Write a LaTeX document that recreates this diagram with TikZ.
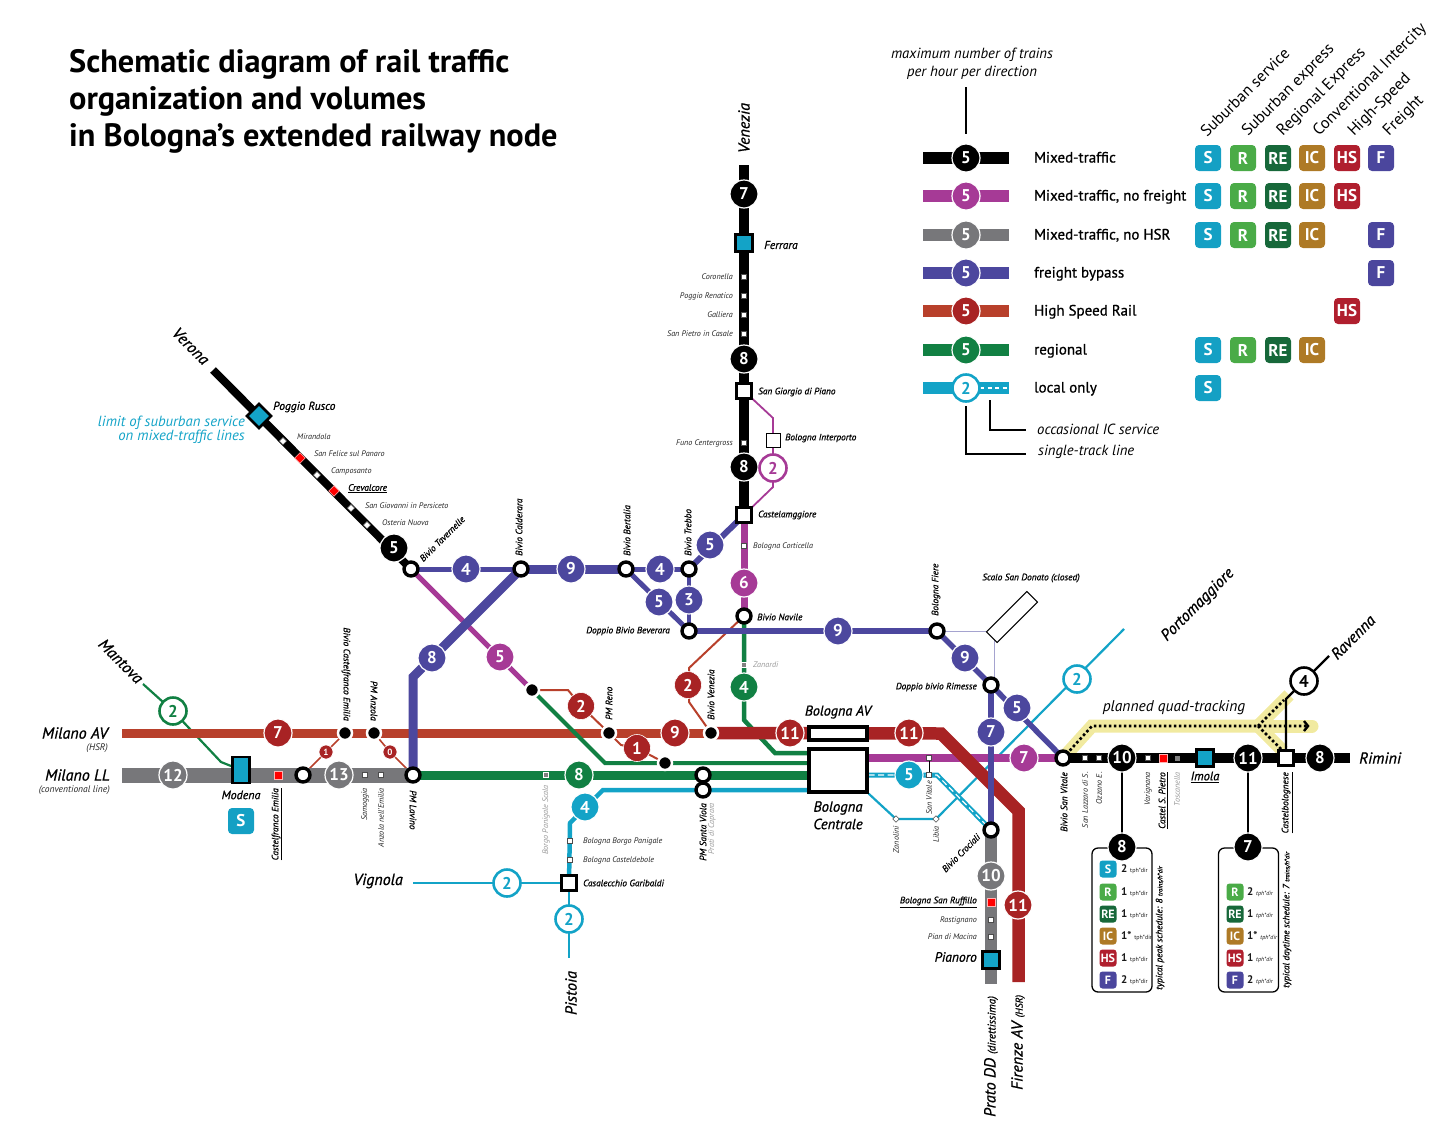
\documentclass[tikz,border=0pt]{standalone}
\usepackage{fontspec}
\setmainfont{PT Sans}
\newfontfamily\semif[FakeBold=0.8]{PT Sans}
\usetikzlibrary{calc}
\pgfdeclarelayer{lines}
\pgfsetlayers{lines,main}
\definecolor{mg}{HTML}{A63A96}
\definecolor{gy}{HTML}{77777A}
\definecolor{fr}{HTML}{4C479E}
\definecolor{hl}{HTML}{B8402B}
\definecolor{hd}{HTML}{A82324}
\definecolor{gr}{HTML}{118043}
\definecolor{cy}{HTML}{13A3C7}
\definecolor{yl}{HTML}{F1EAA0}
\definecolor{bS}{HTML}{14A0C4}
\definecolor{bR}{HTML}{4AAB47}
\definecolor{bE}{HTML}{17683A}
\definecolor{bI}{HTML}{AE7A26}
\definecolor{bH}{HTML}{B01F2E}
\definecolor{bF}{HTML}{4B469D}
\newcommand\fs[1]{\fontsize{#1}{#1}\selectfont}
\tikzset{
  bub/.style={circle,fill=#1,draw=white,line width=1.2pt,text=white,font=\fs{17}\bfseries,inner sep=0pt,minimum size=28pt},
  ring/.style={circle,fill=white,draw=#1,line width=2.6pt,text=#1,font=\fs{17}\bfseries,inner sep=0pt,minimum size=27pt},
  smb/.style={circle,fill=hd,draw=white,line width=.6pt,text=white,font=\fs{9}\bfseries,inner sep=0pt,minimum size=14pt},
  junc/.style={circle,fill=white,draw=black,line width=3.4pt,inner sep=0pt,minimum size=14pt},
  dot/.style={circle,fill=black,draw=white,line width=2.5pt,inner sep=0pt,minimum size=14pt},
  sqk/.style={rectangle,fill=white,draw=black,line width=3.4pt,inner sep=0pt,minimum size=15pt},
  sqc/.style={rectangle,fill=cy,draw=black,line width=2.6pt,inner sep=0pt,minimum size=17pt},
  stw/.style={rectangle,fill=white,draw=black!70,line width=.4pt,inner sep=0pt,minimum size=5pt},
  str/.style={rectangle,fill=red,draw=white!70!red,line width=.5pt,inner sep=0pt,minimum size=7.5pt},
  stg/.style={rectangle,fill=gray,draw=white,line width=.6pt,inner sep=0pt,minimum size=5pt},
  dia/.style={rectangle,rotate=45,fill=white,draw=black!70,line width=.5pt,inner sep=0pt,minimum size=4.5pt},
  bdg/.style={rectangle,rounded corners=4pt,fill=#1,text=white,font=\fs{17}\bfseries,inner sep=0pt,minimum size=26pt},
  bds/.style={rectangle,rounded corners=3pt,fill=#1,text=white,font=\fs{12}\bfseries,inner sep=0pt,minimum size=17pt},
  s8/.style={font=\fs{8.1}\itshape,text=black!85,inner sep=0pt},
  s9/.style={font=\fs{9.3}\semif\itshape,inner sep=0pt},
  sg/.style={font=\fs{8.1}\itshape,text=black!40,inner sep=0pt},
  ctb/.style={font=\fs{16}\semif\itshape,inner sep=0pt},
  note/.style={font=\fs{14.7}\itshape,inner sep=0pt},
  ltx/.style={font=\fs{15}\semif,inner sep=0pt,anchor=base west},
  hdr/.style={font=\fs{16.2},inner sep=0pt,anchor=west,rotate=45},
  ttl/.style={font=\fs{32.3}\bfseries,inner sep=0pt,anchor=base west},
}
\begin{document}
\begin{tikzpicture}[x=1pt,y=-1pt]
\useasboundingbox (0,0) rectangle (1456,1146);
% ---------- title
\node[ttl] (t1) at (69,72) {Schematic diagram of rail traffic};
\node[ttl] (t2) at (69,109) {organization and volumes};
\node[ttl] (t3) at (69,146) {in Bologna’s extended railway node};
% ---------- legend
\node[note,align=center] (lg1) at (972,55) {maximum number of trains};
\node[note,align=center] (lg2) at (972,73) {per hour per direction};
\coordinate (lgtop) at (966,87); \coordinate (lgbot) at (966,134);
\draw[line width=1.1pt] (lgtop)--(lgbot);
\foreach \yy/\cc/\nn/\tt in {158/black/a/{Mixed-traffic},196/mg/b/{Mixed-traffic, no freight},235/gy/c/{Mixed-traffic, no HSR},273/fr/d/{freight bypass},311/hl/e/{High Speed Rail},350/gr/f/{regional}}{
  \coordinate (la\nn) at (923,\yy); \coordinate (lb\nn) at (1009,\yy);
  \draw[\cc,line width=12.5pt] (la\nn)--(lb\nn);
  \node[ltx] (lt\nn) at (1034,\yy+4.5) {\tt};
}
\node[bub=black] (lba) at (966,158) {5};
\node[bub=mg] (lbb) at (966,196) {5};
\node[bub=gy] (lbc) at (966,235) {5};
\node[bub=fr] (lbd) at (966,273) {5};
\node[bub=hd] (lbe) at (966,311) {5};
\node[bub=gr] (lbf) at (966,350) {5};
\coordinate (lag) at (923,388); \coordinate (lbg) at (1009,388);
\draw[cy,line width=12.5pt] (lag)--(lbg);
\draw[white,line width=1.3pt,dash pattern=on 4pt off 3.5pt] (980,388)--(lbg);
\node[ring=cy] (lbgg) at (966,388) {2};
\node[ltx] (ltg) at (1034,392.5) {local only};
\node[note,anchor=west] (oc) at (1037,429) {occasional IC service};
\node[note,anchor=west] (si) at (1038,452) {single-track line};
\coordinate (oc0) at (990,400); \coordinate (oc1) at (1026,430);
\coordinate (si0) at (966,406); \coordinate (si1) at (1026,454);
\draw[line width=1.1pt] (oc0)|-(oc1);
\draw[line width=1.1pt] (si0)|-(si1);
\node[hdr] (h1) at (1203,134) {Suburban service};
\node[hdr] (h2) at (1245,134) {Suburban express};
\node[hdr] (h3) at (1280,134) {Regional Express};
\node[hdr] (h4) at (1316,134) {Conventional Intercity};
\node[hdr] (h5) at (1351,134) {High-Speed};
\node[hdr] (h6) at (1386,134) {Freight};
\foreach \yy/\n in {158/1,196/2,235/3,350/6,388/7}{\node[bdg=bS] (bs\n) at (1208,\yy) {S};}
\foreach \yy/\n in {158/1,196/2,235/3,350/6}{
  \node[bdg=bR] (br\n) at (1243,\yy) {R};
  \node[bdg=bE] (be\n) at (1278,\yy) {RE};
  \node[bdg=bI] (bi\n) at (1312,\yy) {IC};}
\foreach \yy/\n in {158/1,196/2,311/5}{\node[bdg=bH] (bh\n) at (1347,\yy) {HS};}
\foreach \yy/\n in {158/1,235/3,273/4}{\node[bdg=bF] (bf\n) at (1381,\yy) {F};}
% ---------- stations & bubbles: north-west line
\node[ctb,rotate=-45] (Verona) at (191,346) {Verona};
\coordinate (vtop) at (213,370);
\node[sqc,rotate=45] (Poggio) at (259,416) {};
\node[s9,anchor=west,font=\fs{11.5}\semif\itshape] (lPog) at (273,407) {Poggio Rusco};
\node[note,anchor=east,text=cy] (lim1) at (245,423) {limit of suburban service};
\node[note,anchor=east,text=cy] (lim2) at (245,437) {on mixed-traffic lines};
\node[stw,rotate=45] (sMir) at (283,441) {};
\node[str,rotate=45] (sFel) at (300,458) {};
\node[stw,rotate=45] (sCam) at (317,475) {};
\node[str,rotate=45] (sCre) at (334,491) {};
\node[stw,rotate=45] (sGio) at (351,508) {};
\node[stw,rotate=45] (sOst) at (367,525) {};
\node[s8,anchor=west] (lMir) at (297,437) {Mirandola};
\node[s8,anchor=west] (lFel) at (314,454) {San Felice sul Panaro};
\node[s8,anchor=west] (lCam) at (331,471) {Camposanto};
\node[s9,anchor=west] (lCre) at (348,488.5) {\underline{Crevalcore}};
\node[s8,anchor=west] (lGio) at (365,505.5) {San Giovanni in Persiceto};
\node[s8,anchor=west] (lOst) at (382,523) {Osteria Nuova};
\node[bub=black] (n5) at (394,548) {5};
\node[junc] (Tav) at (411,569) {};
\node[s9,rotate=45,anchor=west] (lTav) at (421,560) {Bivio Tavernelle};
% north line
\node[ctb,rotate=90] (Venezia) at (744,128) {Venezia};
\coordinate (ntop) at (744,165);
\node[bub=black] (n7) at (744,194) {7};
\node[sqc] (Ferrara) at (744,243) {};
\node[s9,anchor=west,font=\fs{11.5}\semif\itshape] (lFer) at (764,245) {Ferrara};
\foreach \yy/\n/\t in {277/a/Coronella,296/b/Poggio Renatico,315/c/Galliera,334/d/San Pietro in Casale,443/e/Funo Centergross}{
  \node[stw] (sN\n) at (744,\yy) {};
  \node[s8,anchor=east] (lN\n) at (733,\yy) {\t};}
\node[bub=black] (n8a) at (744,359) {8};
\node[sqk] (Giorgio) at (744,391) {};
\node[s9,anchor=west] (lGgi) at (758,392) {San Giorgio di Piano};
\node[bub=black] (n8b) at (744,467) {8};
\node[rectangle,fill=white,draw=black,line width=.9pt,inner sep=0pt,minimum size=14pt] (Interp) at (773,440) {};
\node[s9,anchor=west] (lInt) at (785,438) {Bologna Interporto};
\node[ring=mg] (m2) at (773,468) {2};
\node[sqk] (Castm) at (744,515) {};
\node[s9,anchor=west] (lCas) at (758,515) {Castelamggiore};
\node[stw] (sCor) at (744,546) {};
\node[s8,anchor=west] (lCor) at (753,546) {Bologna Corticella};
\node[bub=mg] (m6) at (744,583) {6};
\node[junc] (Nav) at (744,616) {};
\node[s9,anchor=west] (lNav) at (757,617) {Bivio Navile};
\node[stg] (sZan) at (744,665) {};
\node[sg,anchor=west] (lZan) at (753,665) {Zanardi};
\node[bub=gr] (g4) at (744,687) {4};
% freight network
\node[bub=fr] (f4a) at (466,569) {4};
\node[junc] (Cald) at (521,569) {};
\node[s9,rotate=90,anchor=west] (lCal) at (519,556) {Bivio Calderara};
\node[bub=fr] (f9a) at (571,569) {9};
\node[junc] (Bert) at (626,569) {};
\node[s9,rotate=90,anchor=west] (lBer) at (627,556) {Bivio Bertalia};
\node[bub=fr] (f4b) at (660,569) {4};
\node[junc] (Treb) at (689,569) {};
\node[s9,rotate=90,anchor=west] (lTre) at (688,556) {Bivio Trebbo};
\node[bub=fr] (f5a) at (710,545) {5};
\node[bub=fr] (f5b) at (659,602) {5};
\node[bub=fr] (f3) at (689,600) {3};
\node[junc] (Bev) at (689,631) {};
\node[s9,anchor=east] (lBev) at (670,631) {Doppio Bivio Beverara};
\node[bub=fr] (f9b) at (838,631) {9};
\node[junc] (Fier) at (937,631) {};
\node[s9,rotate=90,anchor=west] (lFie) at (936,616) {Bologna Fiere};
\node[bub=fr] (f9c) at (965,658) {9};
\node[junc] (Rim) at (991,685) {};
\node[s9,anchor=east] (lRim) at (977,687) {Doppio bivio Rimesse};
\node[bub=fr] (f5c) at (1017,708) {5};
\node[bub=fr] (f7) at (991,732) {7};
\node[junc] (Croc) at (991,830) {};
\node[s9,rotate=45] (lCro) at (961,853) {Bivio Crociali};
\node[bub=fr] (f8) at (432,658) {8};
\node[junc] (Lav) at (413,775) {};
\node[s9,rotate=-90,anchor=west] (lLav) at (413,790) {PM Lavino};
\node[bub=mg] (m5) at (500,657) {5};
\node[dot] (dA) at (532,690) {};
\node[smb,font=\fs{17}\bfseries,minimum size=27pt] (r2a) at (581,706) {2};
\node[dot] (Reno) at (609,733) {};
\node[s9,rotate=90,anchor=west] (lRen) at (609,720) {PM Reno};
\node[smb,font=\fs{17}\bfseries,minimum size=27pt] (r1) at (637,748) {1};
\node[dot] (dB) at (665,763) {};
\node[smb,font=\fs{17}\bfseries,minimum size=27pt] (r2b) at (688,685) {2};
\node[dot] (Ven) at (711,733) {};
\node[s9,rotate=90,anchor=west] (lVen) at (711,720) {Bivio Venezia};
\node[bub=hd] (r9) at (675,733) {9};
\node[bub=hd] (r11a) at (790,733) {11};
\node[bub=hd] (r11b) at (909,733) {11};
\node[bub=hd] (r11c) at (1018,905) {11};
% west
\node[ctb,anchor=east] (lMA) at (108,733) {Milano AV};
\node[s8,anchor=east,font=\fs{9.5}\itshape] (lMA2) at (108,748) {(HSR)};
\node[ctb,anchor=east] (lML) at (110,775) {Milano LL};
\node[s8,anchor=east,font=\fs{9.5}\itshape] (lML2) at (110,790) {(conventional line)};
\coordinate (wA) at (122,733); \coordinate (wL) at (122,775);
\node[ctb,rotate=-45] (lMan) at (121,661) {Mantova};
\coordinate (mtop) at (143,684);
\node[ring=gr] (g2) at (173,711) {2};
\node[bub=hd] (r7) at (278,733) {7};
\node[bub=gy] (g12) at (173,775) {12};
\node[rectangle,fill=cy,draw=black,line width=2.6pt,inner sep=0pt,minimum width=17pt,minimum height=26pt] (Mod) at (241,770) {};
\node[s9,font=\fs{12}\semif\itshape] (lMod) at (241,795) {Modena};
\node[bdg=bS] (bsM) at (241,821) {S};
\node[str] (sCfe) at (278,775) {};
\node[s9,rotate=90,anchor=east] (lCfe) at (277,788) {\underline{Castelfranco Emilia}};
\node[junc] (jW) at (303,775) {};
\node[bub=gy] (g13) at (339,775) {13};
\node[stw] (sSam) at (365,775) {};
\node[s8,rotate=90,anchor=east] (lSam) at (365,788) {Samoggia};
\node[stw] (sAnz) at (381,775) {};
\node[s8,rotate=90,anchor=east] (lAnz) at (381,788) {Anzola nell'Emilia};
\node[dot] (dCf) at (345,733) {};
\node[dot] (dAn) at (374,733) {};
\node[s9,rotate=-90,anchor=east] (lBcf) at (346,721) {Bivio Castelfranco Emilia};
\node[s9,rotate=-90,anchor=east] (lPan) at (374,721) {PM Anzola};
\node[smb] (r1s) at (326,752) {1};
\node[smb] (r0s) at (390,752) {0};
% green / local
\node[stg] (sBps) at (546,775) {};
\node[sg,rotate=90,anchor=east] (lBps) at (546,785) {Borgo Panigale Scala};
\node[bub=gr] (g8) at (579,775) {8};
\node[junc] (SV1) at (703,775) {};
\node[junc] (SV2) at (703,790) {};
\node[s9,rotate=90,anchor=east] (lSV) at (703,803) {PM Santa Viola};
\node[sg,rotate=90,anchor=east] (lPra) at (712,803) {Prati di Caprara};
\node[bub=cy] (c4) at (585,807) {4};
\node[stw] (sBor) at (570,841) {};
\node[stw] (sCad) at (570,860) {};
\node[s8,anchor=west] (lBor) at (583,841) {Bologna Borgo Panigale};
\node[s8,anchor=west] (lCad) at (583,860) {Bologna Casteldebole};
\node[sqk] (Gar) at (569,883) {};
\node[s9,anchor=west] (lGar) at (583,883) {Casalecchio Garibaldi};
\node[ring=cy] (c2w) at (507,883) {2};
\node[ctb,anchor=east] (lVig) at (403,881) {Vignola};
\coordinate (vig) at (413,883);
\node[ring=cy] (c2s) at (569,919) {2};
\coordinate (pis) at (569,958);
\node[ctb,rotate=90] (lPis) at (571,993) {Pistoia};
% Bologna
\node[rectangle,fill=white,draw=black,line width=3.4pt,inner sep=0pt,minimum width=58pt,minimum height=13pt] (AV) at (838,733.5) {};
\node[rectangle,fill=white,draw=black,line width=3.4pt,inner sep=0pt,minimum width=58pt,minimum height=43pt] (BC) at (838,770.5) {};
\node[ctb,font=\fs{14.2}\semif\itshape] (lAV) at (838,712) {Bologna AV};
\node[ctb,font=\fs{14.7}\semif\itshape] (lBC1) at (838,808) {Bologna};
\node[ctb,font=\fs{14.7}\semif\itshape] (lBC2) at (838,824) {Centrale};
% south / east
\node[stw] (sVit) at (929,758) {};
\node[stw] (sVi2) at (929,775) {};
\node[s8,rotate=90,anchor=east] (lVit) at (929,781) {San Vitale};
\node[bub=cy] (c5) at (909,775) {5};
\node[dia] (Zan) at (896,819) {};
\node[dia] (Lib) at (936,819) {};
\node[s8,rotate=90,anchor=east] (lZn) at (896,826) {Zanolini};
\node[s8,rotate=90,anchor=east] (lLb) at (936,826) {Libia};
\coordinate (cyend) at (1124,629);
\node[ring=cy] (c2e) at (1077,679) {2};
\node[ctb,rotate=45] (lPor) at (1198,605) {Portomaggiore};
\node[bub=mg] (m7) at (1024,758) {7};
\node[junc] (Vit) at (1063,758) {};
\node[s9,rotate=90,anchor=east] (lVsv) at (1064,772) {Bivio San Vitale};
\node[bub=gy] (g10) at (991,876) {10};
\node[str] (sRuf) at (991,902) {};
\node[s9,anchor=east] (lRuf) at (977,902) {\underline{Bologna San Ruffillo}};
\node[stw] (sRas) at (991,920) {};
\node[s8,anchor=east] (lRas) at (977,920) {Rastignano};
\node[stw] (sMac) at (991,937) {};
\node[s8,anchor=east] (lMac) at (977,937) {Pian di Macina};
\node[sqc] (Pia) at (991,960) {};
\node[s9,anchor=east,font=\fs{13.5}\semif\itshape] (lPia) at (977,957) {Pianoro};
\coordinate (gyend) at (991,984); \coordinate (hsend) at (1018.5,982);
\node[ctb,rotate=90,anchor=west] (lPra2) at (991,1117) {Prato DD {\fs{11}(direttissima)}};
\node[ctb,rotate=90,anchor=west] (lFir) at (1018,1090) {Firenze AV {\fs{10}(HSR)}};
% Scalo
\node[rectangle,rotate=45,fill=white,draw=black,line width=1pt,inner sep=0pt,minimum width=57pt,minimum height=15pt] (Scalo) at (1012,617) {};
\node[s9] (lSca) at (1031,578) {Scalo San Donato (closed)};
% east
\node[stw] (sLaz) at (1085,758) {};
\node[stw] (sOzz) at (1099,758) {};
\node[bub=black] (k10) at (1122,758) {10};
\node[stw] (sVar) at (1148,758) {};
\node[str] (sSPi) at (1163,758) {};
\node[stg,draw=none] (sTos) at (1177,758) {};
\node[sqc] (Imo) at (1205,758) {};
\node[bub=black] (k11) at (1248,758) {11};
\node[sqk] (Cbo) at (1286,758) {};
\node[bub=black] (k8) at (1320,758) {8};
\coordinate (rim) at (1350,758);
\node[ctb,anchor=west] (lRm) at (1359,758) {Rimini};
\node[s8,rotate=90,anchor=east] (lLaz) at (1085,772) {San Lazzaro di S.};
\node[s8,rotate=90,anchor=east] (lOzz) at (1099,772) {Ozzano E.};
\node[s8,rotate=90,anchor=east] (lVar) at (1148,772) {Varignana};
\node[s9,rotate=90,anchor=east] (lSPi) at (1163,772) {\underline{Castel S. Pietro}};
\node[sg,rotate=90,anchor=east] (lTos) at (1177,772) {Toscanella};
\node[s9,font=\fs{12.5}\semif\itshape] (lImo) at (1205,777) {\underline{Imola}};
\node[s9,rotate=90,anchor=east] (lCbo) at (1287,772) {\underline{Castelbolognese}};
\node[ring=black,line width=2.6pt,text=black] (k4) at (1304,681) {4};
\coordinate (ravb) at (1286,699); \coordinate (rav) at (1329,656);
\node[ctb,rotate=45] (lRav) at (1353,637) {Ravenna};
\node[note,font=\fs{15.5}\itshape] (lQd) at (1174,708) {planned quad-tracking};
\coordinate (qfork) at (1258,726); \coordinate (qend) at (1308,726); \coordinate (qbnd) at (1092,726);
% cards
\node[rectangle,rounded corners=6pt,fill=white,draw=black,line width=1.3pt,inner sep=0pt,minimum width=60pt,minimum height=144pt] (C1) at (1122,920) {};
\node[rectangle,rounded corners=6pt,fill=white,draw=black,line width=1.3pt,inner sep=0pt,minimum width=60pt,minimum height=144pt] (C2) at (1248.5,920) {};
\node[bub=black] (k8c) at (1122,847) {8};
\node[bub=black] (k7c) at (1248,847) {7};
\foreach \yy/\cc/\tt/\vv/\n in {869/bS/S/2/a,892/bR/R/1/b,914/bE/RE/1/c,936/bI/IC/1*/d,958/bH/HS/1/e,980/bF/F/2/f}{
  \node[bds=\cc] (ca\n) at (1108,\yy) {\tt};
  \node[inner sep=0pt,anchor=west,text=black!90] (cv\n) at (1121,\yy) {\fs{11}\bfseries\vv\ {\fs{6}\mdseries tph*dir}};}
\foreach \yy/\cc/\tt/\vv/\n in {892/bR/R/2/b,914/bE/RE/1/c,936/bI/IC/1*/d,958/bH/HS/1/e,980/bF/F/2/f}{
  \node[bds=\cc] (cb\n) at (1235,\yy) {\tt};
  \node[inner sep=0pt,anchor=west,text=black!90] (cw\n) at (1247,\yy) {\fs{11}\bfseries\vv\ {\fs{6}\mdseries\itshape tph*dir}};}
\node[s9,rotate=90,anchor=west] (lC1) at (1160,990) {typical peak schedule: 8 {\fs{6.5}\itshape trains/h*dir}};
\node[s9,rotate=90,anchor=west] (lC2) at (1287,988) {typical daytime schedule: 7 {\fs{6.5}\itshape trains/h*dir}};
% ================ connectors
\begin{pgfonlayer}{lines}
% yellow
\draw[yl,line width=13pt] (Vit.center)--(qbnd)--(qfork);
\draw[yl,line width=13pt,line cap=round] (qfork)--(1312,726);
\draw[yl,line width=13pt] (qfork)--(1289,695);
\draw[yl,line width=13pt] (qfork)--(1283,751);
% thin cyan
\draw[cy,line width=2.2pt] (BC.south east)--(Zan.center)--(Lib.center)--(cyend);
\draw[gr,line width=2.2pt] (mtop)--(g2.center)--(221,762)--(Mod.center);
\draw[cy,line width=2.2pt] (vig)--(Gar.center);
% thin red
\draw[hl,line width=2pt] (Nav.center)--(689,668)--(689,702)--(Ven.center);
\draw[hl,line width=2pt] (dA.center)--(568,690)--(r2a.center)--(Reno.center);
\draw[hl,line width=2pt] (Reno.center)--(621,745)--(r1.center)--(650,755)--(dB.center);
\draw[hl,line width=1.6pt] (jW.center)--(r1s.center)--(dCf.center);
\draw[hl,line width=1.6pt] (dAn.center)--(r0s.center)--(Lav.center);
% grey scalo
\draw[fr!50,line width=1pt] (Fier.center)--(986,631);
\draw[fr!50,line width=1pt] (994,640)--(994,682);
% HSR light
\draw[hl,line width=9pt] (wA)--(Ven.center);
% green
\draw[gr,line width=4pt] (dA.center)--(605,763)--(BC.west|-605,763);
\draw[gr,line width=4.5pt] (Nav.center)--(744,720)--(775,753)--(BC.west|-775,753);
\draw[gr,line width=9pt] (Lav.center)--(BC.west|-Lav);
% local
\draw[cy,line width=4.5pt] (Gar.center)--(570,823)--(603,790)--(BC.west|-603,790);
\draw[cy,line width=2.2pt] (Gar.center)--(pis);
% grey
\draw[gy,line width=15pt] (wL)--(Lav.center);
\draw[gy,line width=12pt] (Croc.center)--(gyend);
% magenta
\draw[mg,line width=8pt] (BC.east|-Vit)--(Vit.center);
\draw[mg,line width=5pt] (Tav.center)--(dA.center);
\draw[mg,line width=7pt] (Castm.center)--(Nav.center);
\draw[mg,line width=1.8pt] (Giorgio.center)--(773,418)--(773,487)--(Castm.center);
% HS dark
\draw[hd,line width=12.5pt] (Ven.center)--(941,733.5)--(1018.5,811)--(hsend);
% cyan dashed
\draw[cy,line width=5pt] (BC.east|-c5)--(937,775)--(Croc.center);
\draw[white,line width=1.2pt,dash pattern=on 6pt off 3.5pt] (BC.east|-c5)--(937,775)--(Croc.center);
\draw[black,line width=.8pt] (sVit.center)--(sVi2.center);
% freight
\draw[fr,line width=5pt] (Tav.center)--(Cald.center);
\draw[fr,line width=9pt] (Cald.center)--(Bert.center);
\draw[fr,line width=5pt] (Bert.center)--(Treb.center);
\draw[fr,line width=5pt] (Bert.center)--(Bev.center);
\draw[fr,line width=4.5pt] (Treb.center)--(Bev.center);
\draw[fr,line width=6pt] (Treb.center)--(Castm.center);
\draw[fr,line width=6pt] (Bev.center)--(Fier.center);
\draw[fr,line width=5.5pt] (Fier.center)--(Rim.center)--(Vit.center);
\draw[fr,line width=6.5pt] (Rim.center)--(Croc.center);
\draw[fr,line width=9pt] (Cald.center)--(413,677)--(Lav.center);
% mixed black
\draw[black,line width=8pt] (vtop)--(Tav.center);
\draw[black,line width=9.5pt] (ntop)--(Castm.center);
\draw[black,line width=10.5pt] (Vit.center)--(rim);
\draw[black,line width=1.5pt] (k10.center)--(k8c.center);
\draw[black,line width=1.5pt] (k11.center)--(k7c.center);
% quad dotted
\draw[black,line width=2.6pt,dash pattern=on 2.6pt off 2.4pt] (Vit.center)--(qbnd)--(qend);
\draw[black,line width=2.6pt,dash pattern=on 2.6pt off 2.4pt] (qfork)--(1284,700);
\draw[black,line width=2.6pt,dash pattern=on 2.6pt off 2.4pt] (qfork)--(1282,750);
\draw[black,line width=2.4pt] (1304,721)--(qend)--(1304,731);
% Ravenna
\draw[black,line width=2.4pt] (Cbo.center)--(ravb)--(k4.center)--(rav);
\end{pgfonlayer}
\end{tikzpicture}
\end{document}
